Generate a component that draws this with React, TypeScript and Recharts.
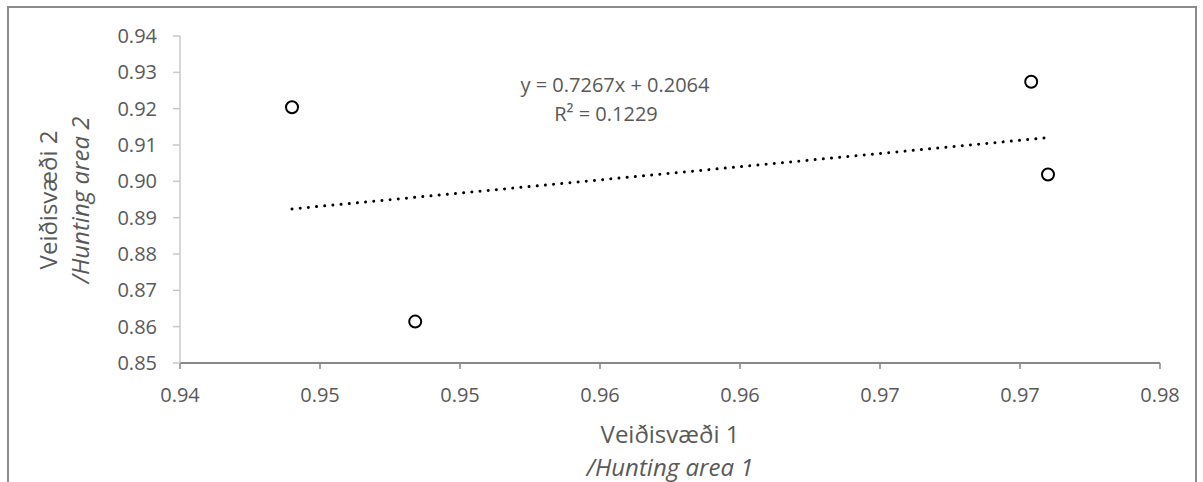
import { ScatterChart, Scatter, XAxis, YAxis, ReferenceLine } from 'recharts';

// Survival estimates for the two hunting areas, one pair per year
const huntingArea1 = [0.944, 0.9484, 0.9704, 0.971];
const huntingArea2 = [0.9204, 0.8614, 0.9274, 0.9019];

const xTicks = [0.94, 0.945, 0.95, 0.955, 0.96, 0.965, 0.97, 0.975];
const xTickLabels = ['0.94', '0.95', '0.95', '0.96', '0.96', '0.97', '0.97', '0.98'];
const yTicks = [0.85, 0.86, 0.87, 0.88, 0.89, 0.9, 0.91, 0.92, 0.93, 0.94];

// Linear trendline as reported in the chart
const trendSlope = 0.7267;
const trendIntercept = 0.2064;
const rSquared = 0.1229;

const points = huntingArea1.map((x, i) => ({ x, y: huntingArea2[i] }));
const xMin = Math.min(...huntingArea1);
const xMax = Math.max(...huntingArea1);
const trendSegment = [
    { x: xMin, y: trendSlope * xMin + trendIntercept },
    { x: xMax, y: trendSlope * xMax + trendIntercept },
];

const font = '"Open Sans", sans-serif';
const textColor = '#595959';

const CircleMarker = (props: any) => (
    <circle cx={props.cx} cy={props.cy} r={6} fill="#fff" stroke="#000" strokeWidth={2} />
);

export default function App() {
    return (
        <div style={{ position: 'fixed', left: 0, top: 0, width: 1203, height: 482, overflow: 'hidden', background: '#fff' }}>
            <div
                style={{
                    position: 'absolute',
                    left: 7,
                    top: 6,
                    width: 1190,
                    height: 520,
                    border: '2px solid #8c8c8c',
                    boxSizing: 'border-box',
                }}
            />
            <div style={{ position: 'absolute', left: 0, top: 0 }}>
                <ScatterChart width={1203} height={482} margin={{ top: 36, right: 43, left: 0, bottom: 0 }}>
                    <XAxis
                        type="number"
                        dataKey="x"
                        domain={[0.94, 0.975]}
                        ticks={xTicks}
                        interval={0}
                        height={119}
                        tickFormatter={(v: number) => xTickLabels[xTicks.indexOf(v)] ?? v.toFixed(2)}
                        axisLine={{ stroke: '#878787', strokeWidth: 2 }}
                        tickLine={{ stroke: '#878787', strokeWidth: 1.5 }}
                        tickSize={6}
                        tickMargin={19}
                        tick={{ fill: textColor, fontFamily: font, fontSize: 20 }}
                    />
                    <YAxis
                        type="number"
                        dataKey="y"
                        domain={[0.85, 0.94]}
                        ticks={yTicks}
                        interval={0}
                        width={180}
                        tickFormatter={(v: number) => v.toFixed(2)}
                        axisLine={{ stroke: '#c9c9c9', strokeWidth: 1.5 }}
                        tickLine={{ stroke: '#c9c9c9', strokeWidth: 1.5 }}
                        tickSize={7}
                        tickMargin={16}
                        tick={{ fill: textColor, fontFamily: font, fontSize: 20 }}
                    />
                    <ReferenceLine
                        segment={trendSegment}
                        stroke="#000"
                        strokeWidth={3}
                        strokeDasharray="0.01 8.2"
                        strokeLinecap="round"
                    />
                    <Scatter data={points} shape={CircleMarker} isAnimationActive={false} />

                    <text x={615} y={92} textAnchor="middle" fill={textColor} fontFamily={font} fontSize={20}>
                        {`y = ${trendSlope}x + ${trendIntercept}`}
                    </text>
                    <text x={606} y={121} textAnchor="middle" fill={textColor} fontFamily={font} fontSize={20}>
                        {`R² = ${rSquared}`}
                    </text>

                    <text x={670} y={443} textAnchor="middle" fill={textColor} fontFamily={font} fontSize={24}>
                        Veiðisvæði 1
                    </text>
                    <text x={670} y={476} textAnchor="middle" fill={textColor} fontFamily={font} fontSize={24} fontStyle="italic">
                        /Hunting area 1
                    </text>
                    <text
                        transform="translate(57 200) rotate(-90)"
                        textAnchor="middle"
                        fill={textColor}
                        fontFamily={font}
                        fontSize={24}
                    >
                        Veiðisvæði 2
                    </text>
                    <text
                        transform="translate(89 200) rotate(-90)"
                        textAnchor="middle"
                        fill={textColor}
                        fontFamily={font}
                        fontSize={24}
                        fontStyle="italic"
                    >
                        /Hunting area 2
                    </text>
                </ScatterChart>
            </div>
        </div>
    );
}
